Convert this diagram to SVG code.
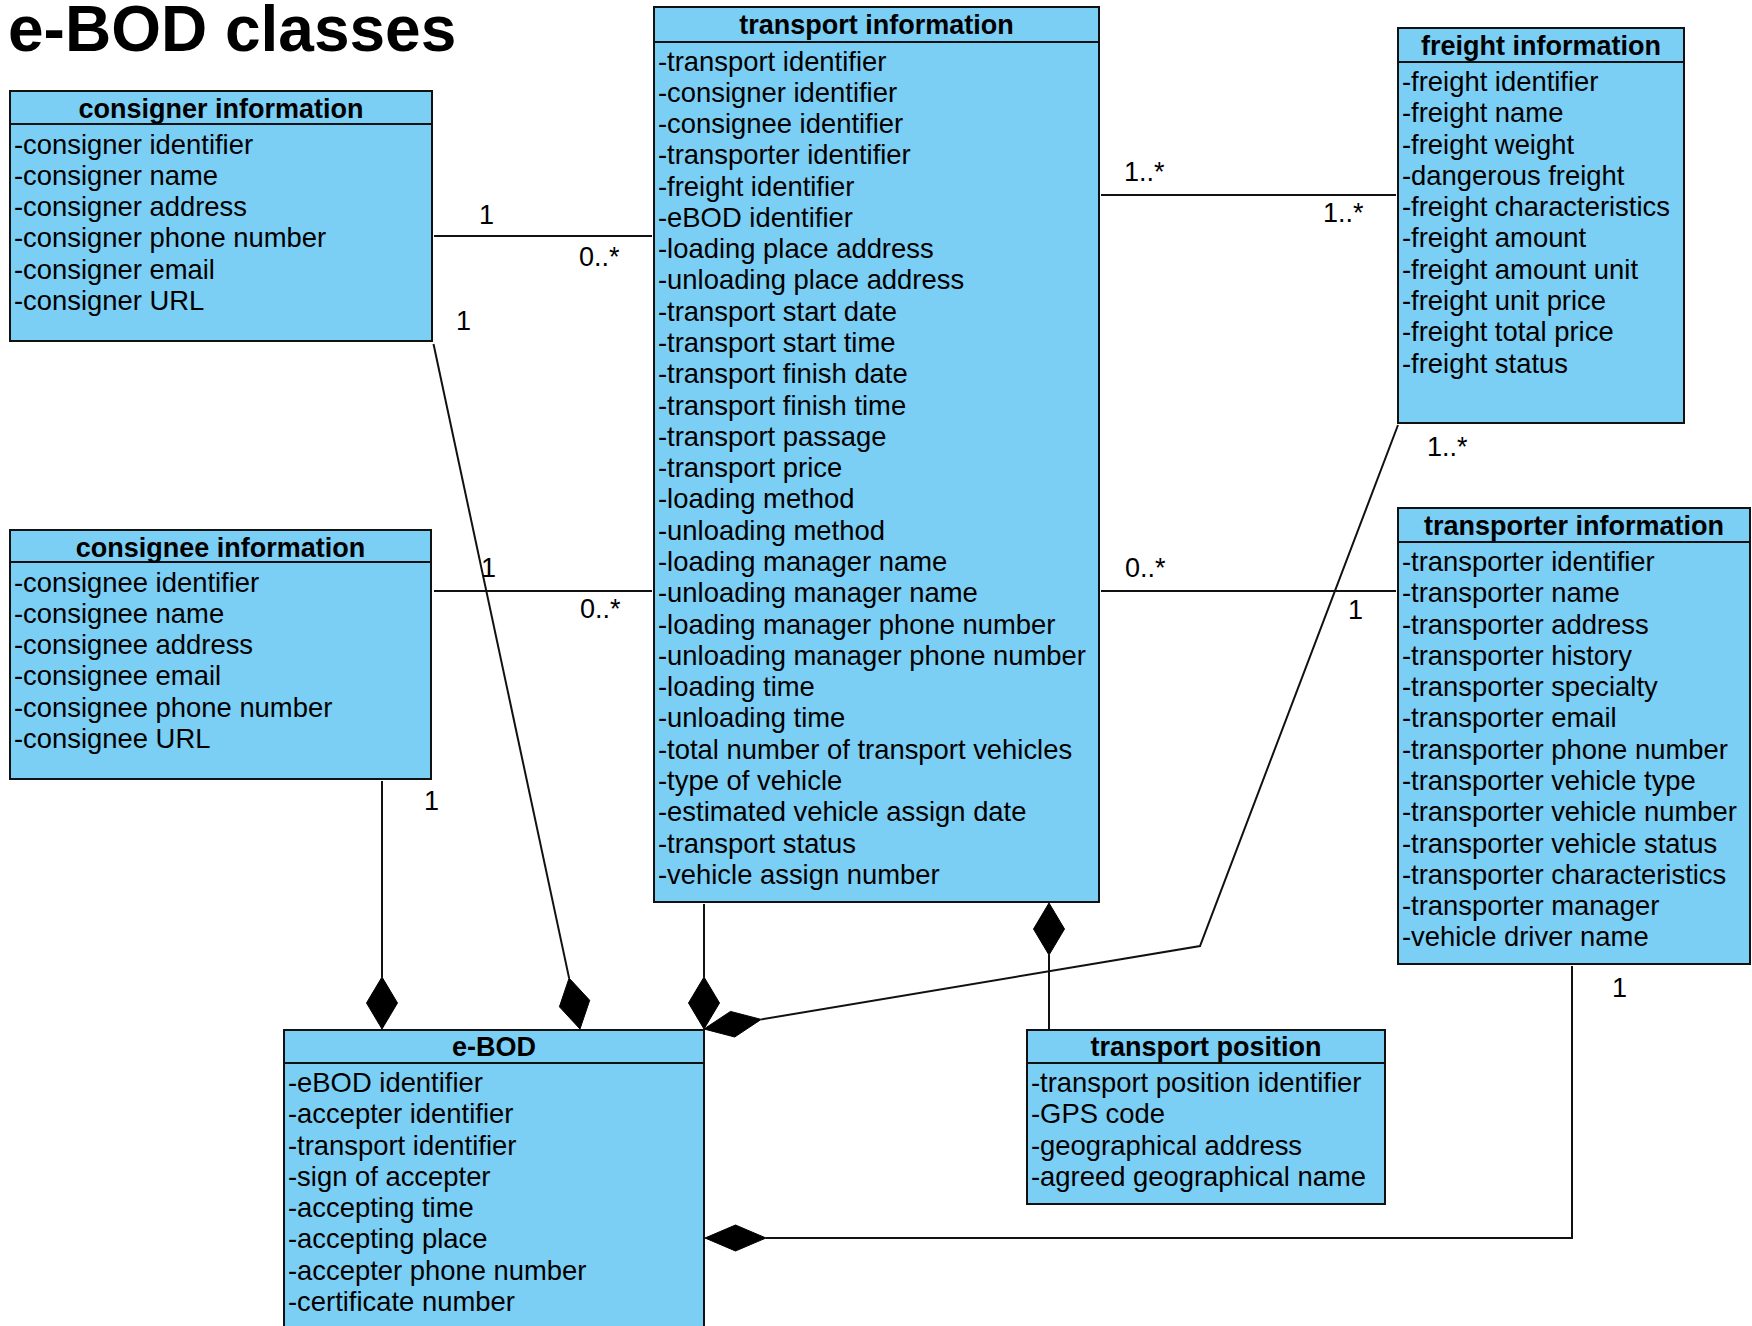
<svg xmlns="http://www.w3.org/2000/svg" width="1752" height="1326" viewBox="0 0 1752 1326">
<style>
.box{fill:#7BCEF4;stroke:#111;stroke-width:2}
.div{stroke:#111;stroke-width:2}
.hd{font-family:"Liberation Sans",Arial,sans-serif;font-size:27px;font-weight:bold;fill:#000;text-anchor:middle}
.at{font-family:"Liberation Sans",Arial,sans-serif;font-size:27.4px;fill:#000}
.ln{fill:none;stroke:#111;stroke-width:2}
.dm{fill:#000;stroke:#000;stroke-width:1}
.lb{font-family:"Liberation Sans",Arial,sans-serif;font-size:27px;fill:#000}
.title{font-family:"Liberation Sans",Arial,sans-serif;font-size:64px;font-weight:bold;fill:#000}
</style>
<rect width="1752" height="1326" fill="#fff"/>
<text class="title" x="8" y="51">e-BOD classes</text>

<g id="connectors">
  <line class="ln" x1="434" y1="236" x2="652" y2="236"/>
  <line class="ln" x1="434" y1="591" x2="652" y2="591"/>
  <line class="ln" x1="1101" y1="195" x2="1396" y2="195"/>
  <line class="ln" x1="1101" y1="591" x2="1396" y2="591"/>
  <line class="ln" x1="382" y1="781" x2="382" y2="977"/>
  <line class="ln" x1="433.5" y1="344" x2="569.1" y2="978.1"/>
  <line class="ln" x1="704" y1="904" x2="704" y2="977"/>
  <polyline class="ln" points="761.2,1019.4 1200,946 1398,425"/>
  <line class="ln" x1="1049" y1="955" x2="1049" y2="1029"/>
  <polyline class="ln" points="766,1238 1572,1238 1572,966"/>
  <polygon class="dm" points="382,977 397.5,1003 382,1029 366.5,1003"/>
  <polygon class="dm" points="569.1,978.1 589.7,1000.3 580,1029 559.4,1006.8"/>
  <polygon class="dm" points="704,977 719.5,1003 704,1029 688.5,1003"/>
  <polygon class="dm" points="704,1029 730.5,1011.4 761.2,1019.4 734.7,1037"/>
  <polygon class="dm" points="1049,903 1064.5,929 1049,955 1033.5,929"/>
  <polygon class="dm" points="705,1238 735.5,1225 766,1238 735.5,1251"/>
  <g id="labels">
    <text class="lb" x="479" y="224">1</text>
    <text class="lb" x="579" y="266">0..*</text>
    <text class="lb" x="456" y="330">1</text>
    <text class="lb" x="481" y="577">1</text>
    <text class="lb" x="580" y="618">0..*</text>
    <text class="lb" x="424" y="810">1</text>
    <text class="lb" x="1124" y="181">1..*</text>
    <text class="lb" x="1323" y="222">1..*</text>
    <text class="lb" x="1427" y="456">1..*</text>
    <text class="lb" x="1125" y="577">0..*</text>
    <text class="lb" x="1348" y="619">1</text>
    <text class="lb" x="1612" y="997">1</text>
  </g>
</g>

<g id="consigner-information">
  <rect class="box" x="10" y="91" width="422" height="250"/>
  <line class="div" x1="10" y1="124" x2="432" y2="124"/>
  <text class="hd" x="221" y="118">consigner information</text>
  <text class="at" x="14" y="153.5">-consigner identifier<tspan x="14" dy="31.28">-consigner name</tspan><tspan x="14" dy="31.28">-consigner address</tspan><tspan x="14" dy="31.28">-consigner phone number</tspan><tspan x="14" dy="31.28">-consigner email</tspan><tspan x="14" dy="31.28">-consigner URL</tspan></text>
</g>

<g id="consignee-information">
  <rect class="box" x="10" y="530" width="421" height="249"/>
  <line class="div" x1="10" y1="562" x2="431" y2="562"/>
  <text class="hd" x="220.5" y="557">consignee information</text>
  <text class="at" x="14" y="591.5">-consignee identifier<tspan x="14" dy="31.28">-consignee name</tspan><tspan x="14" dy="31.28">-consignee address</tspan><tspan x="14" dy="31.28">-consignee email</tspan><tspan x="14" dy="31.28">-consignee phone number</tspan><tspan x="14" dy="31.28">-consignee URL</tspan></text>
</g>

<g id="transport-information">
  <rect class="box" x="654" y="7" width="445" height="895"/>
  <line class="div" x1="654" y1="42" x2="1099" y2="42"/>
  <text class="hd" x="876.5" y="34">transport information</text>
  <text class="at" x="658" y="70.5">-transport identifier<tspan x="658" dy="31.28">-consigner identifier</tspan><tspan x="658" dy="31.28">-consignee identifier</tspan><tspan x="658" dy="31.28">-transporter identifier</tspan><tspan x="658" dy="31.28">-freight identifier</tspan><tspan x="658" dy="31.28">-eBOD identifier</tspan><tspan x="658" dy="31.28">-loading place address</tspan><tspan x="658" dy="31.28">-unloading place address</tspan><tspan x="658" dy="31.28">-transport start date</tspan><tspan x="658" dy="31.28">-transport start time</tspan><tspan x="658" dy="31.28">-transport finish date</tspan><tspan x="658" dy="31.28">-transport finish time</tspan><tspan x="658" dy="31.28">-transport passage</tspan><tspan x="658" dy="31.28">-transport price</tspan><tspan x="658" dy="31.28">-loading method</tspan><tspan x="658" dy="31.28">-unloading method</tspan><tspan x="658" dy="31.28">-loading manager name</tspan><tspan x="658" dy="31.28">-unloading manager name</tspan><tspan x="658" dy="31.28">-loading manager phone number</tspan><tspan x="658" dy="31.28">-unloading manager phone number</tspan><tspan x="658" dy="31.28">-loading time</tspan><tspan x="658" dy="31.28">-unloading time</tspan><tspan x="658" dy="31.28">-total number of transport vehicles</tspan><tspan x="658" dy="31.28">-type of vehicle</tspan><tspan x="658" dy="31.28">-estimated vehicle assign date</tspan><tspan x="658" dy="31.28">-transport status</tspan><tspan x="658" dy="31.28">-vehicle assign number</tspan></text>
</g>

<g id="freight-information">
  <rect class="box" x="1398" y="28" width="286" height="395"/>
  <line class="div" x1="1398" y1="62" x2="1684" y2="62"/>
  <text class="hd" x="1541" y="55">freight information</text>
  <text class="at" x="1402" y="91">-freight identifier<tspan x="1402" dy="31.28">-freight name</tspan><tspan x="1402" dy="31.28">-freight weight</tspan><tspan x="1402" dy="31.28">-dangerous freight</tspan><tspan x="1402" dy="31.28">-freight characteristics</tspan><tspan x="1402" dy="31.28">-freight amount</tspan><tspan x="1402" dy="31.28">-freight amount unit</tspan><tspan x="1402" dy="31.28">-freight unit price</tspan><tspan x="1402" dy="31.28">-freight total price</tspan><tspan x="1402" dy="31.28">-freight status</tspan></text>
</g>

<g id="transporter-information">
  <rect class="box" x="1398" y="508" width="352" height="456"/>
  <line class="div" x1="1398" y1="542" x2="1750" y2="542"/>
  <text class="hd" x="1574" y="535">transporter information</text>
  <text class="at" x="1402" y="571">-transporter identifier<tspan x="1402" dy="31.28">-transporter name</tspan><tspan x="1402" dy="31.28">-transporter address</tspan><tspan x="1402" dy="31.28">-transporter history</tspan><tspan x="1402" dy="31.28">-transporter specialty</tspan><tspan x="1402" dy="31.28">-transporter email</tspan><tspan x="1402" dy="31.28">-transporter phone number</tspan><tspan x="1402" dy="31.28">-transporter vehicle type</tspan><tspan x="1402" dy="31.28">-transporter vehicle number</tspan><tspan x="1402" dy="31.28">-transporter vehicle status</tspan><tspan x="1402" dy="31.28">-transporter characteristics</tspan><tspan x="1402" dy="31.28">-transporter manager</tspan><tspan x="1402" dy="31.28">-vehicle driver name</tspan></text>
</g>

<g id="e-BOD">
  <rect class="box" x="284" y="1030" width="420" height="320"/>
  <line class="div" x1="284" y1="1063" x2="704" y2="1063"/>
  <text class="hd" x="494" y="1056">e-BOD</text>
  <text class="at" x="288" y="1092">-eBOD identifier<tspan x="288" dy="31.28">-accepter identifier</tspan><tspan x="288" dy="31.28">-transport identifier</tspan><tspan x="288" dy="31.28">-sign of accepter</tspan><tspan x="288" dy="31.28">-accepting time</tspan><tspan x="288" dy="31.28">-accepting place</tspan><tspan x="288" dy="31.28">-accepter phone number</tspan><tspan x="288" dy="31.28">-certificate number</tspan></text>
</g>

<g id="transport-position">
  <rect class="box" x="1027" y="1030" width="358" height="174"/>
  <line class="div" x1="1027" y1="1063" x2="1385" y2="1063"/>
  <text class="hd" x="1206" y="1056">transport position</text>
  <text class="at" x="1031" y="1092">-transport position identifier<tspan x="1031" dy="31.28">-GPS code</tspan><tspan x="1031" dy="31.28">-geographical address</tspan><tspan x="1031" dy="31.28">-agreed geographical name</tspan></text>
</g>
</svg>
